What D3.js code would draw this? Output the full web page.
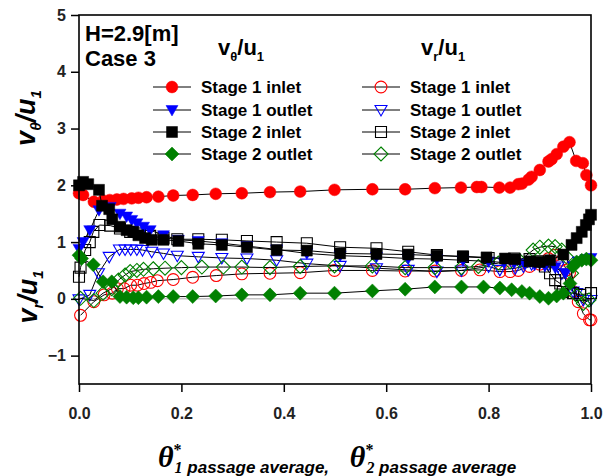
<!DOCTYPE html>
<html><head><meta charset="utf-8">
<script src="https://cdnjs.cloudflare.com/ajax/libs/d3/7.8.5/d3.min.js"></script>
<style>body{margin:0;background:#fff}svg{display:block}</style>
</head><body><svg id="c" width="606" height="476"></svg>
<script>
// ---- data ----
const xTicks = [0, 0.2, 0.4, 0.6, 0.8, 1.0];
const yTicks = [-1, 0, 1, 2, 3, 4, 5];
const seriesNames = ["Stage 1 inlet", "Stage 1 outlet", "Stage 2 inlet", "Stage 2 outlet"];

// v_theta/u1 (filled markers)
const s1InVtX = [0,0.008,0.029,0.047,0.06,0.074,0.087,0.103,0.116,0.132,0.155,0.184,0.222,0.267,0.318,0.373,0.432,0.499,0.573,0.637,0.695,0.746,0.777,0.786,0.821,0.842,0.858,0.865,0.878,0.884,0.9,0.917,0.923,0.933,0.946,0.958,0.971,0.984,0.991,1.0];
const s1InVtY = [1.86,1.83,1.71,1.73,1.74,1.75,1.76,1.77,1.78,1.79,1.80,1.82,1.83,1.85,1.86,1.88,1.89,1.92,1.93,1.93,1.95,1.96,1.97,1.97,1.96,1.96,2.02,2.03,2.10,2.15,2.27,2.42,2.46,2.55,2.68,2.76,2.43,2.39,2.18,2.0];
const s1OutVtX = [0,0.008,0.021,0.039,0.061,0.08,0.093,0.103,0.113,0.126,0.139,0.165,0.194,0.233,0.279,0.328,0.386,0.445,0.51,0.581,0.643,0.699,0.75,0.80,0.83,0.85,0.87,0.89,0.91,0.93,0.95,0.965,0.975,0.99,1.0];
const s1OutVtY = [0.88,1.0,1.21,1.56,1.62,1.50,1.45,1.39,1.33,1.27,1.21,1.12,1.04,1.02,0.98,0.93,0.87,0.80,0.76,0.74,0.71,0.70,0.68,0.66,0.64,0.63,0.62,0.60,0.58,0.55,0.45,0.58,0.66,0.70,0.72];
const s2InVtX = [0,0.008,0.018,0.039,0.045,0.059,0.065,0.08,0.093,0.106,0.116,0.129,0.142,0.165,0.194,0.233,0.279,0.328,0.386,0.445,0.51,0.581,0.643,0.699,0.75,0.796,0.832,0.852,0.88,0.9,0.92,0.946,0.962,0.972,0.982,0.99,0.996,1.0];
const s2InVtY = [2.0,2.06,2.02,1.92,1.64,1.58,1.40,1.27,1.21,1.18,1.12,1.07,1.04,1.04,1.02,0.97,0.95,0.91,0.86,0.85,0.80,0.79,0.78,0.76,0.75,0.73,0.71,0.70,0.66,0.65,0.68,0.78,0.95,1.07,1.18,1.30,1.40,1.48];
const s2OutVtX = [0,0.005,0.028,0.047,0.064,0.08,0.093,0.106,0.116,0.132,0.155,0.184,0.222,0.267,0.318,0.373,0.432,0.499,0.573,0.637,0.695,0.747,0.79,0.822,0.845,0.865,0.88,0.9,0.917,0.933,0.946,0.959,0.965,0.972,0.982,0.991,1.0];
const s2OutVtY = [0.77,0.71,0.60,0.30,0.30,0.04,0.03,0.02,0.02,0.03,0.04,0.04,0.04,0.05,0.07,0.07,0.10,0.10,0.14,0.17,0.21,0.21,0.21,0.19,0.16,0.13,0.10,0.04,0.01,0.05,0.10,0.27,0.57,0.65,0.68,0.70,0.68];

// v_r/u1 (open markers)
const s1InVrX = [0.003,0.029,0.049,0.065,0.075,0.088,0.101,0.114,0.127,0.14,0.153,0.184,0.222,0.268,0.318,0.373,0.432,0.499,0.573,0.637,0.695,0.747,0.783,0.822,0.842,0.858,0.88,0.9,0.917,0.93,0.943,0.952,0.958,0.965,0.975,0.985,0.997,1.0];
const s1InVrY = [-0.29,-0.05,0.07,0.10,0.18,0.18,0.24,0.24,0.27,0.29,0.32,0.34,0.38,0.41,0.44,0.45,0.46,0.50,0.50,0.49,0.49,0.50,0.51,0.48,0.48,0.50,0.57,0.61,0.71,0.77,0.68,0.51,0.45,0.13,-0.05,-0.26,-0.37,-0.37];
const s1OutVrX = [0,0.021,0.038,0.059,0.079,0.09,0.101,0.113,0.124,0.142,0.165,0.192,0.233,0.279,0.328,0.386,0.445,0.51,0.581,0.643,0.699,0.747,0.8,0.822,0.852,0.868,0.884,0.9,0.917,0.936,0.943,0.965,0.972,0.985,1.0];
const s1OutVrY = [-0.01,0.07,0.45,0.74,0.87,0.87,0.87,0.87,0.86,0.83,0.80,0.76,0.74,0.72,0.71,0.68,0.62,0.58,0.54,0.51,0.48,0.50,0.57,0.51,0.54,0.57,0.61,0.63,0.60,0.57,0.45,0.13,0.10,-0.02,-0.02];
const s2InVrX = [0,0.003,0.012,0.021,0.028,0.04,0.061,0.08,0.1,0.119,0.139,0.165,0.192,0.233,0.279,0.328,0.386,0.445,0.51,0.581,0.643,0.699,0.75,0.80,0.85,0.88,0.897,0.91,0.92,0.93,0.94,0.945,0.965,0.979,1.0];
const s2InVrY = [0.39,0.55,0.86,1.0,1.18,1.30,1.29,1.24,1.18,1.15,1.11,1.07,1.05,1.05,1.04,1.02,1.00,0.98,0.91,0.89,0.83,0.77,0.74,0.72,0.71,0.70,0.66,0.57,0.45,0.33,0.27,0.12,0.10,0.07,0.10];
const s2OutVrX = [0.003,0.029,0.047,0.064,0.077,0.09,0.1,0.113,0.126,0.145,0.168,0.2,0.24,0.282,0.318,0.373,0.432,0.499,0.573,0.637,0.695,0.747,0.78,0.819,0.842,0.861,0.887,0.9,0.917,0.93,0.943,0.952,0.962,0.972,0.985,0.996];
const s2OutVrY = [0.01,-0.03,0.10,0.18,0.33,0.42,0.48,0.50,0.52,0.53,0.54,0.55,0.56,0.56,0.56,0.55,0.57,0.58,0.58,0.55,0.55,0.55,0.57,0.63,0.65,0.67,0.86,0.91,0.93,0.92,0.86,0.74,0.45,0.06,-0.08,-0.02];

// ---- chart ----
const svg = d3.select("#c");
const L = 79, R = 591, T = 15, B = 384;
const x = d3.scaleLinear().domain([0, 1]).range([L, R]);
const y = d3.scaleLinear().domain([-1.5, 5]).range([B, T]);
const SANS = "'Liberation Sans', Arial, sans-serif";
const SERIF = "'Liberation Serif', 'Times New Roman', serif";

// zero reference line
svg.append("line").attr("x1", x(0)).attr("x2", x(1)).attr("y1", y(0)).attr("y2", y(0))
  .attr("stroke", "#c4c4c4").attr("stroke-width", 1.5);

const colors = ["#ff0000", "#0000ff", "#000000", "#008000"];
const shapes = ["circle", "tri", "square", "diamond"];

function markerPath(shape) {
  if (shape === "circle") return d3.symbol(d3.symbolCircle, 110)();
  if (shape === "tri") return "M-6,-4.5L6,-4.5L0,6Z";
  if (shape === "square") return "M-5.5,-5.5H5.5V5.5H-5.5Z";
  return "M0,-7L7,0L0,7L-7,0Z";
}

const filled = [
  [s1InVtX, s1InVtY], [s1OutVtX, s1OutVtY], [s2InVtX, s2InVtY], [s2OutVtX, s2OutVtY]
];
const open = [
  [s1InVrX, s1InVrY], [s1OutVrX, s1OutVrY], [s2InVrX, s2InVrY], [s2OutVrX, s2OutVrY]
];
const line = d3.line().x(d => x(d[0])).y(d => y(d[1]));

function drawSeries(xs, ys, i, isFilled) {
  const pts = xs.map((v, k) => [v, ys[k]]);
  const g = svg.append("g");
  g.append("path").attr("d", line(pts)).attr("fill", "none")
    .attr("stroke", "#000").attr("stroke-width", 1);
  g.selectAll("path.m").data(pts).join("path").attr("class", "m")
    .attr("d", markerPath(shapes[i]))
    .attr("transform", d => `translate(${x(d[0])},${y(d[1])})`)
    .attr("fill", isFilled ? colors[i] : "none")
    .attr("stroke", colors[i]).attr("stroke-width", isFilled ? 0.5 : 1.1);
}
open.forEach((s, i) => drawSeries(s[0], s[1], i, false));
filled.forEach((s, i) => drawSeries(s[0], s[1], i, true));

// frame
svg.append("rect").attr("x", L).attr("y", T).attr("width", R - L).attr("height", B - T)
  .attr("fill", "none").attr("stroke", "#000").attr("stroke-width", 1.6);

// axes
const xAxis = svg.append("g").attr("transform", `translate(0,${B})`)
  .call(d3.axisBottom(x).tickValues(xTicks).tickFormat(d3.format(".1f")).tickSize(8).tickPadding(16));
const yAxis = svg.append("g").attr("transform", `translate(${L},0)`)
  .call(d3.axisLeft(y).tickValues(yTicks).tickFormat(d3.format("d")).tickSize(8).tickPadding(5));
[xAxis, yAxis].forEach(a => {
  a.select(".domain").remove();
  a.selectAll("line").attr("stroke", "#000").attr("stroke-width", 1.5);
  a.selectAll("text").attr("font-family", SANS).attr("font-weight", "bold")
    .attr("font-size", 16).attr("fill", "#222");
});

// Y axis titles
function yTitle(cx, cy, sub) {
  const t = svg.append("text").attr("transform", `translate(${cx},${cy}) rotate(-90)`)
    .attr("text-anchor", "middle").attr("font-family", SANS).attr("font-weight", "bold")
    .attr("font-style", "italic").attr("font-size", 27).attr("fill", "#000");
  t.append("tspan").text("v");
  t.append("tspan").attr("font-size", 15).attr("dy", 6).text(sub);
  t.append("tspan").attr("dy", -6).text("/u");
  t.append("tspan").attr("font-size", 15).attr("dy", 6).text("1");
}
yTitle(35, 118, "θ");
yTitle(37, 297, "r");

// X axis title
const xt = svg.append("text").attr("x", 158).attr("y", 467).attr("fill", "#000");
function xPart(sym, sub) {
  xt.append("tspan").attr("font-family", SERIF).attr("font-weight", "bold").attr("font-style", "italic")
    .attr("font-size", 30).text("θ");
  xt.append("tspan").attr("font-family", SERIF).attr("font-weight", "bold").attr("font-size", 16)
    .attr("dy", -12).text("*");
  xt.append("tspan").attr("font-family", SERIF).attr("font-style", "italic").attr("font-weight", "bold")
    .attr("font-size", 16).attr("dx", -7).attr("dy", 18).text(sub);
  xt.append("tspan").attr("font-family", SANS).attr("font-style", "italic").attr("font-weight", "bold")
    .attr("font-size", 17).attr("dy", 0).text(sym);
}
xPart(" passage average,", "1");
xt.append("tspan").attr("font-size", 17).attr("dy", -6).attr("dx", 8).text("\u00a0\u00a0\u00a0");
xPart(" passage average", "2");

// annotations
svg.append("text").attr("x", 85).attr("y", 41).attr("font-family", SANS).attr("font-weight", "bold")
  .attr("font-size", 22).text("H=2.9[m]");
svg.append("text").attr("x", 85).attr("y", 66).attr("font-family", SANS).attr("font-weight", "bold")
  .attr("font-size", 22).text("Case 3");

function header(hx, sub) {
  const t = svg.append("text").attr("x", hx).attr("y", 55).attr("font-family", SANS)
    .attr("font-weight", "bold").attr("font-size", 22);
  t.append("tspan").text("v");
  t.append("tspan").attr("font-size", 13).attr("dy", 6).text(sub);
  t.append("tspan").attr("dy", -6).text("/u");
  t.append("tspan").attr("font-size", 13).attr("dy", 6).text("1");
}
header(218, "θ");
header(421, "r");

// legend
const rowsY = [87, 110, 132, 154];
function legendCol(cx, isFilled) {
  seriesNames.forEach((name, i) => {
    const g = svg.append("g").attr("transform", `translate(0,${rowsY[i]})`);
    g.append("line").attr("x1", cx - 19).attr("x2", cx + 19).attr("stroke", "#000").attr("stroke-width", 1);
    g.append("path").attr("d", markerPath(shapes[i])).attr("transform", `translate(${cx},0)`)
      .attr("fill", isFilled ? colors[i] : "none").attr("stroke", colors[i])
      .attr("stroke-width", isFilled ? 0.5 : 1.1);
    g.append("text").attr("x", cx + 29).attr("y", 6).attr("font-family", SANS)
      .attr("font-weight", "bold").attr("font-size", 17).text(name);
  });
}
legendCol(172, true);
legendCol(381, false);
</script></body></html>
